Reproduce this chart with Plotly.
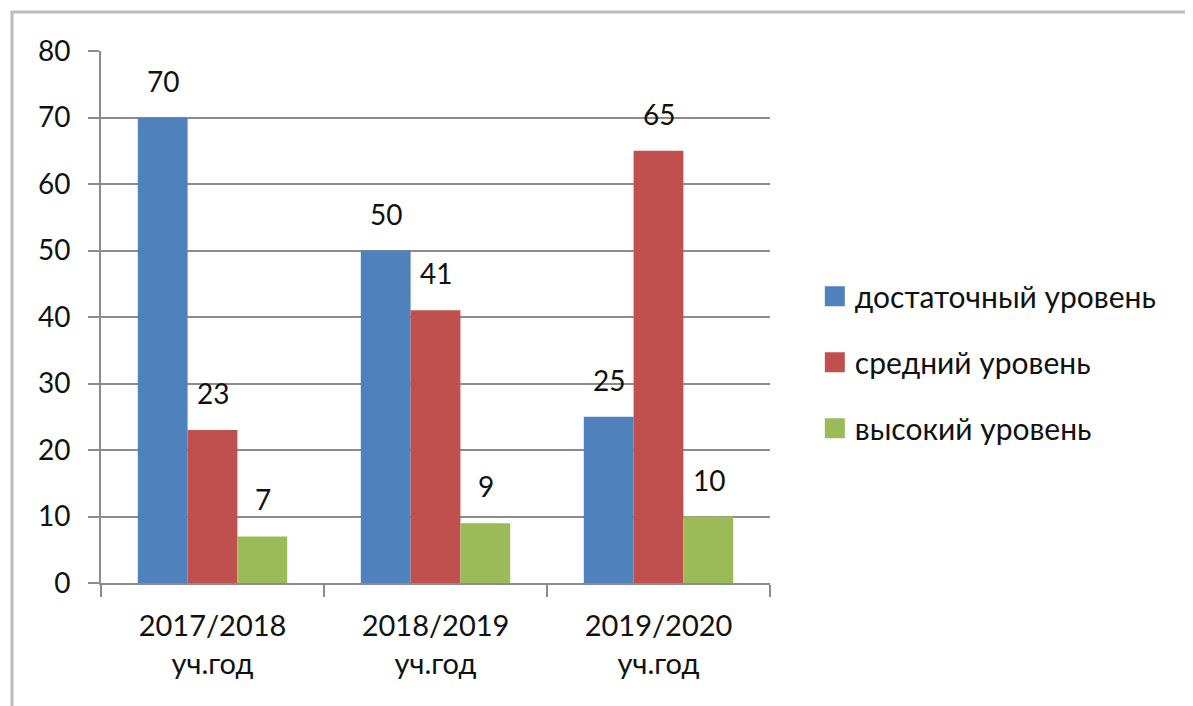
import plotly.graph_objects as go

categories = ["2017/2018<br>уч.год", "2018/2019<br>уч.год", "2019/2020<br>уч.год"]
series_names = ["достаточный уровень", "средний уровень", "высокий уровень"]
dost = [70, 50, 25]
sred = [23, 41, 65]
vys = [7, 9, 10]
colors = ["#4F81BD", "#C0504D", "#9BBB59"]
y_ticks = [0, 10, 20, 30, 40, 50, 60, 70, 80]

FONT = "Lato, Open Sans, sans-serif"
TXT = "#111111"
values = [dost, sred, vys]

fig = go.Figure()
for i, (name, vals, col) in enumerate(zip(series_names, values, colors)):
    fig.add_trace(go.Bar(
        x=categories, y=vals, name=name, marker=dict(color=col, line=dict(width=0)),
        legendgroup=f"g{i}", showlegend=False,
    ))
# legend entries with larger square swatches
for i, (name, col) in enumerate(zip(series_names, colors)):
    fig.add_trace(go.Scatter(
        x=[None], y=[None], mode="markers", name=name,
        marker=dict(symbol="square", size=16, color=col, line=dict(color=col, width=4)),
        legendgroup=f"g{i}", showlegend=True, hoverinfo="skip",
    ))

annotations = []
shifts = [-50, 0, 50]
for vals, sh in zip(values, shifts):
    for c, v in zip(categories, vals):
        annotations.append(dict(x=c, y=v, xref="x", yref="y", text=str(v), showarrow=False,
                                xshift=sh, yshift=37, yanchor="middle",
                                font=dict(family=FONT, size=28, color=TXT)))

fig.update_layout(
    width=1185, height=698,
    margin=dict(l=93, r=423, t=43, b=123),
    paper_bgcolor="white", plot_bgcolor="white",
    barmode="group", bargap=0.33, bargroupgap=0,
    font=dict(family=FONT, size=28, color=TXT),
    showlegend=True,
    legend=dict(x=1.067, y=0.415, xanchor="left", yanchor="middle",
                font=dict(family=FONT, size=30, color=TXT),
                tracegroupgap=24, traceorder="grouped", itemwidth=30, itemsizing="trace"),
    annotations=annotations,
    shapes=[dict(type="rect", xref="paper", yref="paper", x0=-0.133, x1=1.8, y0=-0.5, y1=1.0733,
                 line=dict(color="#bdbdbd", width=3), layer="below")],
)
fig.update_xaxes(showline=True, linecolor="#8c8c8c", linewidth=2, ticks="outside",
                 tickson="boundaries", ticklen=12, tickcolor="#8c8c8c", tickwidth=2,
                 ticklabelstandoff=16,
                 tickfont=dict(family=FONT, size=29, color=TXT), showgrid=False)
fig.update_yaxes(range=[0, 80], tickvals=y_ticks, showline=True, linecolor="#8c8c8c", linewidth=2,
                 gridcolor="#8c8c8c", gridwidth=2, ticks="outside", ticklen=11,
                 tickcolor="#8c8c8c", tickwidth=2, ticklabelstandoff=12,
                 tickfont=dict(family=FONT, size=28, color=TXT), zeroline=False)

fig.write_html("out.html")
